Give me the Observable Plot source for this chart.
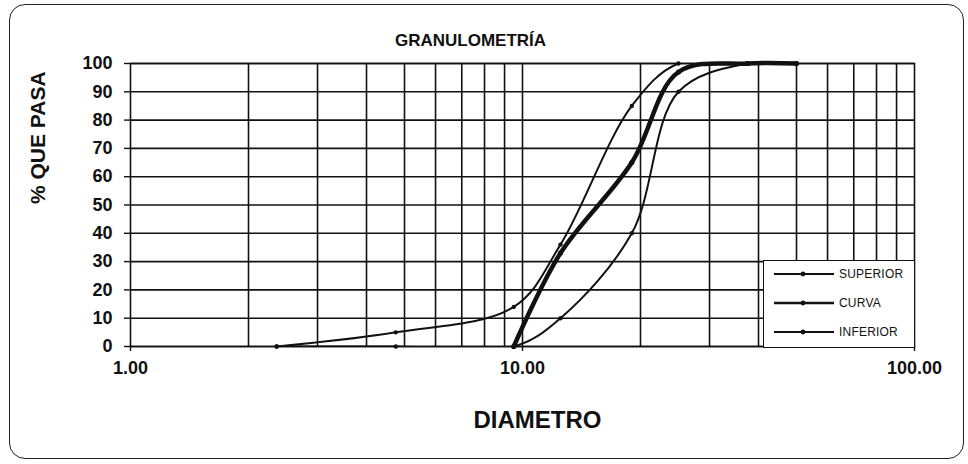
<!DOCTYPE html>
<html><head><meta charset="utf-8">
<script src="https://cdn.jsdelivr.net/npm/d3@7"></script>
<script src="https://cdn.jsdelivr.net/npm/@observablehq/plot@0.6"></script>
<style>
body{margin:0;background:#fff;}
#wrap{position:relative;width:968px;height:464px;font-family:"Liberation Sans",Arial,sans-serif;}
#border{position:absolute;left:9px;top:4px;width:955px;height:455px;border:1.5px solid #222;border-radius:16px;box-sizing:border-box;}
#chart{position:absolute;left:0;top:0;}
#legend{position:absolute;left:763px;top:260px;width:152px;height:88px;background:#fff;border:1.6px solid #111;box-sizing:border-box;}
#legend .row{position:absolute;left:0;height:20px;display:flex;align-items:center;}
#legend span{font-size:12px;color:#111;margin-left:4px;letter-spacing:0.2px;}
</style></head><body>
<div id="wrap"><div id="border"></div><div id="chart"></div><div id="legend"></div></div>
<script>
// Data (sieve size in mm, % passing)
const sieves = [2.36, 4.75, 9.5, 12.5, 19, 25, 37.5, 50];
const superior = [0, 5, 14, 36, 85, 100, 100, 100];
const inferior = [0, 0, 0, 10, 40, 90, 100, 100];
const curvaSieves = [9.5, 12.5, 19, 25, 37.5, 50];
const curva = [0, 33, 65, 97, 100, 100];
const seriesNames = ["SUPERIOR", "CURVA", "INFERIOR"];
const xTicks = [1, 10, 100];
const xGrid = [2, 3, 4, 5, 6, 7, 8, 9, 10, 20, 30, 40, 50, 60, 70, 80, 90];
const yTicks = [0, 10, 20, 30, 40, 50, 60, 70, 80, 90, 100];

const supData = sieves.map((d, i) => ({x: d, y: superior[i]}));
const infData = sieves.map((d, i) => ({x: d, y: inferior[i]}));
const curData = curvaSieves.map((d, i) => ({x: d, y: curva[i]}));

const ink = "#111";
const chart = Plot.plot({
  width: 968, height: 464,
  marginLeft: 130, marginRight: 54, marginTop: 63, marginBottom: 118,
  x: {type: "log", domain: [1, 100]},
  y: {domain: [0, 100]},
  style: {fontFamily: "'Liberation Sans', Arial, sans-serif", fontWeight: "bold", fontSize: "18px", color: ink, background: "transparent"},
  marks: [
    Plot.ruleX(xGrid, {stroke: ink, strokeWidth: 1.6}),
    Plot.ruleY(yTicks, {stroke: ink, strokeWidth: 1.6}),
    Plot.frame({stroke: ink, strokeWidth: 1.6}),
    Plot.axisY({ticks: yTicks, tickSize: 6, tickPadding: 12, tickFormat: d3.format("d"), label: null, strokeWidth: 1.4}),
    Plot.axisX({ticks: xTicks, tickFormat: d3.format(".2f"), tickSize: 5, tickPadding: 10, label: null, strokeWidth: 1.4}),
    Plot.line(infData, {x: "x", y: "y", curve: "catmull-rom", stroke: ink, strokeWidth: 2, clip: true}),
    Plot.line(supData, {x: "x", y: "y", curve: "catmull-rom", stroke: ink, strokeWidth: 2, clip: true}),
    Plot.line(curData, {x: "x", y: "y", curve: "catmull-rom", stroke: ink, strokeWidth: 4.5}),
    Plot.dot(infData, {x: "x", y: "y", r: 2.2, fill: ink}),
    Plot.dot(supData, {x: "x", y: "y", r: 2.2, fill: ink}),
    Plot.dot(curData, {x: "x", y: "y", r: 2.6, fill: ink}),
    Plot.text(["GRANULOMETRÍA"], {frameAnchor: "top", dx: -52, dy: -30, fontSize: 17, fontWeight: "bold", fill: ink}),
    Plot.text(["DIAMETRO"], {frameAnchor: "bottom", dx: 15, dy: 81, fontSize: 24, fontWeight: "bold", fill: ink}),
    Plot.text(["% QUE PASA"], {frameAnchor: "left", dx: -92, dy: -1, rotate: -90, fontSize: 21, fontWeight: "bold", fill: ink})
  ]
});
document.getElementById("chart").appendChild(chart);

// Legend
const legend = d3.select("#legend");
const widths = [2, 2.4, 2];
const rowsY = [13, 42, 71];
seriesNames.forEach((name, i) => {
  const row = legend.append("div").attr("class", "row").style("top", (rowsY[i] - 10) + "px").style("left", "9px");
  const s = row.append("svg").attr("width", 62).attr("height", 20);
  s.append("line").attr("x1", 1).attr("x2", 61).attr("y1", 10).attr("y2", 10).attr("stroke", ink).attr("stroke-width", widths[i]);
  s.append("circle").attr("cx", 30).attr("cy", 10).attr("r", 2.4).attr("fill", ink);
  row.append("span").text(name);
});
</script>
</body></html>
